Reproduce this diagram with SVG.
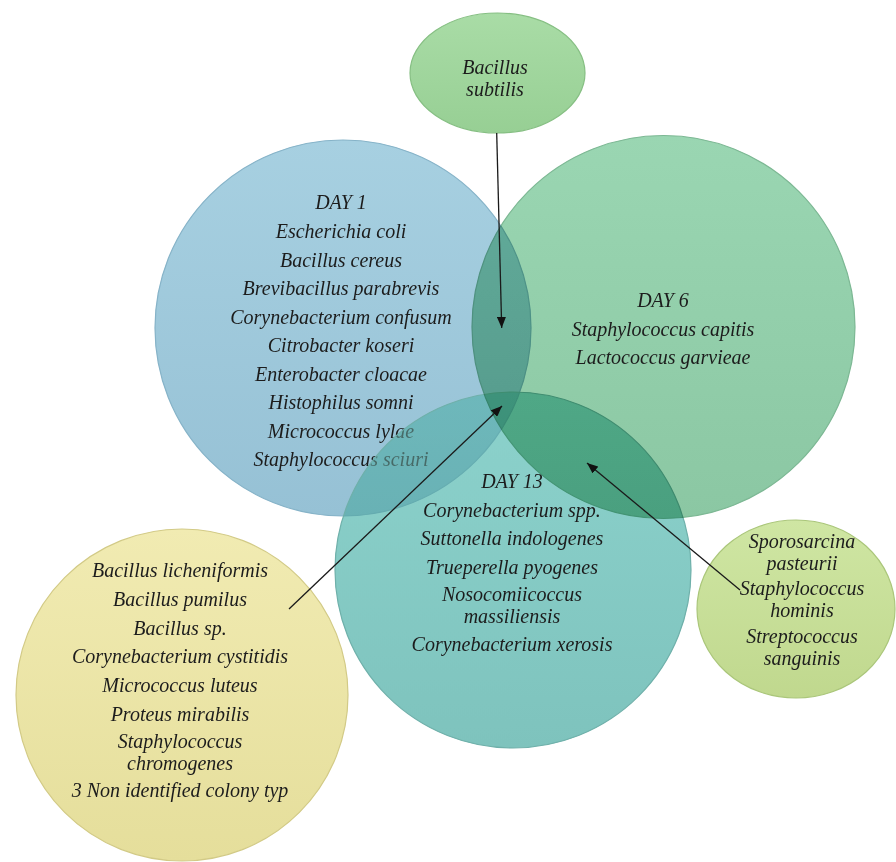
<svg xmlns="http://www.w3.org/2000/svg" width="896" height="862" viewBox="0 0 896 862">
<defs>
<style>
text{font-family:"Liberation Serif","Times New Roman",serif;font-style:italic;font-size:20px;fill:#1c1c1c;text-anchor:middle}
.mul{mix-blend-mode:multiply}
.rim{stroke-width:1.2}
.conn{stroke:#1a1a1a;stroke-width:1.3;fill:none;marker-end:url(#ah)}
</style>
<linearGradient id="gTop" x1="0" y1="0" x2="0" y2="1"><stop offset="0" stop-color="#a9dca6"/><stop offset="1" stop-color="#97cf94"/></linearGradient>
<linearGradient id="gBlue" x1="0" y1="0" x2="0" y2="1"><stop offset="0" stop-color="#a7d0e1"/><stop offset="1" stop-color="#96c1d5"/></linearGradient>
<linearGradient id="gGreen" x1="0" y1="0" x2="0" y2="1"><stop offset="0" stop-color="#9ad6b2"/><stop offset="1" stop-color="#8bc7a3"/></linearGradient>
<linearGradient id="gTeal" x1="0" y1="0" x2="0" y2="1"><stop offset="0" stop-color="#8cd2cc"/><stop offset="1" stop-color="#7ec3bd"/></linearGradient>
<linearGradient id="gYellow" x1="0" y1="0" x2="0" y2="1"><stop offset="0" stop-color="#f1ebb2"/><stop offset="1" stop-color="#e5de9b"/></linearGradient>
<linearGradient id="gRight" x1="0" y1="0" x2="0" y2="1"><stop offset="0" stop-color="#cfe6a3"/><stop offset="1" stop-color="#c0d88e"/></linearGradient>
<marker id="ah" markerWidth="11" markerHeight="9" refX="11" refY="4.5" orient="auto" markerUnits="userSpaceOnUse"><path d="M0,0 L11,4.5 L0,9 z" fill="#111"/></marker>
</defs>
<rect x="0" y="0" width="896" height="862" fill="#ffffff"/>

<g id="node-bacillus-subtilis">
<ellipse cx="497.5" cy="73" rx="87.5" ry="60" fill="url(#gTop)" stroke="#86bf83" class="rim"/>
<text x="495" y="73.6">Bacillus</text>
<text x="495" y="95.8">subtilis</text>
</g>

<g id="node-day1">
<circle cx="343" cy="328" r="188" fill="url(#gBlue)" stroke="#86b3c8" class="rim"/>
<text x="341" y="209">DAY 1</text>
<text x="341" y="238">Escherichia coli</text>
<text x="341" y="266.5">Bacillus cereus</text>
<text x="341" y="295">Brevibacillus parabrevis</text>
<text x="341" y="323.5">Corynebacterium confusum</text>
<text x="341" y="352">Citrobacter koseri</text>
<text x="341" y="380.5">Enterobacter cloacae</text>
<text x="341" y="409">Histophilus somni</text>
<text x="341" y="437.5">Micrococcus lylae</text>
<text x="341" y="466">Staphylococcus sciuri</text>
</g>

<g id="node-day13">
<circle cx="513" cy="570" r="178" fill="url(#gTeal)" class="mul"/>
<circle cx="513" cy="570" r="178" fill="url(#gTeal)" fill-opacity="0.45" stroke="#6fb0aa" class="rim"/>
<text x="512" y="488">DAY 13</text>
<text x="512" y="517">Corynebacterium spp.</text>
<text x="512" y="545">Suttonella indologenes</text>
<text x="512" y="574">Trueperella pyogenes</text>
<text x="512" y="601.2">Nosocomiicoccus</text>
<text x="512" y="623.4">massiliensis</text>
<text x="512" y="651">Corynebacterium xerosis</text>
</g>

<g id="node-day6">
<circle cx="663.5" cy="327" r="191.5" fill="url(#gGreen)" stroke="#7db894" class="rim mul"/>
<text x="663" y="307">DAY 6</text>
<text x="663" y="335.5">Staphylococcus capitis</text>
<text x="663" y="364">Lactococcus garvieae</text>
</g>

<g id="node-yellow">
<circle cx="182" cy="695" r="166" fill="url(#gYellow)" stroke="#d2ca86" class="rim"/>
<text x="180" y="577">Bacillus licheniformis</text>
<text x="180" y="606">Bacillus pumilus</text>
<text x="180" y="634.5">Bacillus sp.</text>
<text x="180" y="663">Corynebacterium cystitidis</text>
<text x="180" y="692">Micrococcus luteus</text>
<text x="180" y="720.5">Proteus mirabilis</text>
<text x="180" y="748.2">Staphylococcus</text>
<text x="180" y="770.4">chromogenes</text>
<text x="180" y="797">3 Non identified colony typ</text>
</g>

<g id="node-right">
<ellipse cx="796" cy="609" rx="99" ry="89" fill="url(#gRight)" stroke="#aac67a" class="rim"/>
<text x="802" y="547.6">Sporosarcina</text>
<text x="802" y="569.8">pasteurii</text>
<text x="802" y="595.2">Staphylococcus</text>
<text x="802" y="617.4">hominis</text>
<text x="802" y="642.6">Streptococcus</text>
<text x="802" y="664.8">sanguinis</text>
</g>

<g id="connectors">
<line class="conn" x1="496.7" y1="133" x2="501.7" y2="328"/>
<line class="conn" x1="289" y1="609" x2="502" y2="406"/>
<line class="conn" x1="740" y1="590" x2="587" y2="463"/>
</g>
</svg>
